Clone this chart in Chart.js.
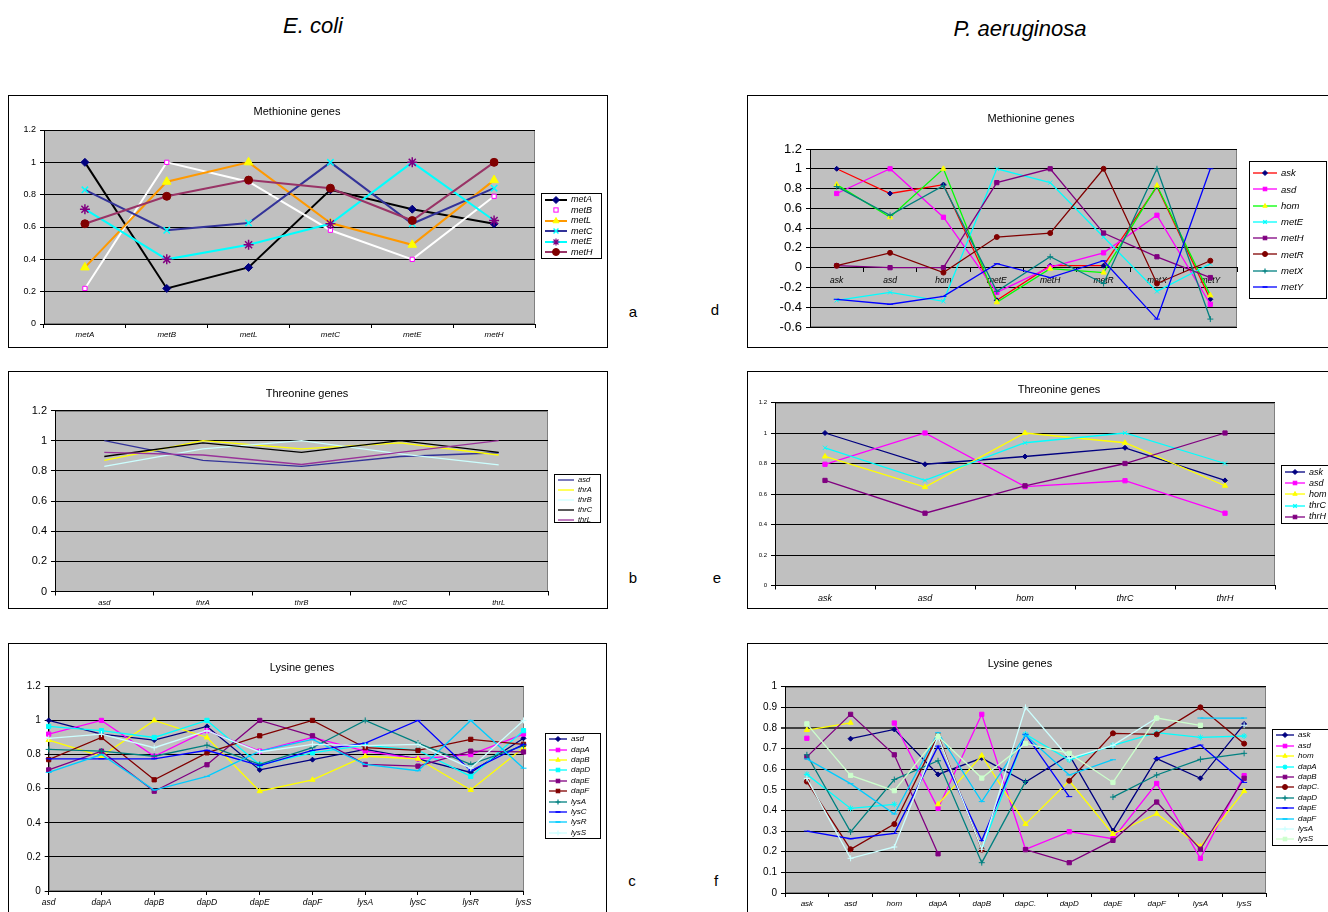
<!DOCTYPE html>
<html>
<head>
<meta charset="utf-8">
<script src="https://cdn.jsdelivr.net/npm/chart.js@4.4.1/dist/chart.umd.min.js"></script>
<style>
  html, body { margin: 0; padding: 0; background: #fff; }
  body { width: 1328px; height: 912px; position: relative; overflow: hidden;
         font-family: "Liberation Sans", Arial, sans-serif; color: #000; }
  canvas { position: absolute; }
  .frame { position: absolute; border: 1px solid #000; box-sizing: border-box; pointer-events: none; }
  .ptitle { position: absolute; transform: translate(-50%, -50%); font-size: 11px; white-space: nowrap; }
  .org { position: absolute; transform: translate(-50%, -50%); font-size: 22px; font-style: italic; white-space: nowrap; }
  .tag { position: absolute; transform: translate(-50%, -50%); font-size: 15px; }
  .legend { position: absolute; border: 1px solid #000; background: #fff; box-sizing: border-box;
            display: flex; flex-direction: column; justify-content: space-evenly; overflow: hidden; }
  .legend .row { display: flex; align-items: center; font-style: italic; white-space: nowrap; line-height: 1; }
  .legend svg { flex: none; }
</style>
</head>
<body>
<div class="org" style="left:313px;top:26px;">E. coli</div>
<div class="org" style="left:1020px;top:29px;">P. aeruginosa</div>
<div class="tag" style="left:633px;top:311px;">a</div>
<div class="tag" style="left:715px;top:309px;">d</div>
<div class="tag" style="left:633px;top:577px;">b</div>
<div class="tag" style="left:717px;top:577px;">e</div>
<div class="tag" style="left:632px;top:880px;">c</div>
<div class="tag" style="left:716px;top:880px;">f</div>

<script>
/* ---------- data: correlation values ---------- */

// a. E. coli, methionine genes
const ecMetCats = ['metA', 'metB', 'metL', 'metC', 'metE', 'metH'];
const ecMet_metA = [1, 0.22, 0.35, 0.83, 0.71, 0.62];
const ecMet_metB = [0.22, 1, 0.88, 0.58, 0.40, 0.79];
const ecMet_metL = [0.35, 0.88, 1, 0.625, 0.49, 0.89];
const ecMet_metC = [0.83, 0.58, 0.625, 1, 0.62, 0.84];
const ecMet_metE = [0.71, 0.40, 0.49, 0.62, 1, 0.64];
const ecMet_metH = [0.62, 0.79, 0.89, 0.84, 0.64, 1];

// b. E. coli, threonine genes
const ecThrCats = ['asd', 'thrA', 'thrB', 'thrC', 'thrL'];
const ecThr_asd  = [1, 0.87, 0.83, 0.895, 0.92];
const ecThr_thrA = [0.87, 1, 0.945, 0.985, 0.905];
const ecThr_thrB = [0.83, 0.945, 1, 0.913, 0.84];
const ecThr_thrC = [0.895, 0.985, 0.922, 1, 0.922];
const ecThr_thrL = [0.922, 0.905, 0.842, 0.922, 1];

// c. E. coli, lysine genes
const ecLysCats = ['asd', 'dapA', 'dapB', 'dapD', 'dapE', 'dapF', 'lysA', 'lysC', 'lysR', 'lysS'];
const ecLys_asd  = [1, 0.92, 0.885, 0.965, 0.71, 0.77, 0.83, 0.775, 0.695, 0.895];
const ecLys_dapA = [0.92, 1, 0.79, 0.94, 0.82, 0.90, 0.82, 0.775, 0.80, 0.92];
const ecLys_dapB = [0.885, 0.79, 1, 0.90, 0.585, 0.652, 0.79, 0.775, 0.592, 0.84];
const ecLys_dapD = [0.965, 0.94, 0.90, 1, 0.74, 0.81, 0.855, 0.825, 0.672, 0.94];
const ecLys_dapE = [0.71, 0.82, 0.585, 0.74, 1, 0.91, 0.742, 0.732, 0.82, 0.815];
const ecLys_dapF = [0.77, 0.90, 0.652, 0.81, 0.91, 1, 0.84, 0.824, 0.889, 0.86];
const ecLys_lysA = [0.83, 0.82, 0.79, 0.855, 0.742, 0.84, 1, 0.867, 0.742, 0.852];
const ecLys_lysC = [0.775, 0.775, 0.775, 0.825, 0.735, 0.824, 0.867, 1, 0.705, 0.86];
const ecLys_lysR = [0.695, 0.80, 0.592, 0.672, 0.82, 0.889, 0.742, 0.705, 1, 0.72];
const ecLys_lysS = [0.895, 0.92, 0.84, 0.94, 0.815, 0.86, 0.852, 0.86, 0.72, 1];

// d. P. aeruginosa, methionine genes
const paMetCats = ['ask', 'asd', 'hom', 'metE', 'metH', 'metR', 'metX', 'metY'];
const paMet_ask  = [1, 0.75, 0.84, -0.33, 0.02, 0.02, 0.82, -0.32];
const paMet_asd  = [0.75, 1, 0.51, -0.25, 0.005, 0.15, 0.53, -0.37];
const paMet_hom  = [0.84, 0.51, 1, -0.35, -0.01, -0.05, 0.83, -0.28];
const paMet_metE = [-0.33, -0.25, -0.34, 1, 0.86, 0.31, -0.24, 0.04];
const paMet_metH = [0.02, 0.0, 0.0, 0.86, 1, 0.35, 0.11, -0.10];
const paMet_metR = [0.02, 0.15, -0.05, 0.31, 0.35, 1, -0.16, 0.07];
const paMet_metX = [0.82, 0.53, 0.83, -0.24, 0.11, -0.16, 1, -0.52];
const paMet_metY = [-0.32, -0.37, -0.29, 0.04, -0.10, 0.07, -0.52, 1];

// e. P. aeruginosa, threonine genes
const paThrCats = ['ask', 'asd', 'hom', 'thrC', 'thrH'];
const paThr_ask  = [1, 0.795, 0.846, 0.903, 0.689];
const paThr_asd  = [0.795, 1, 0.648, 0.687, 0.474];
const paThr_hom  = [0.846, 0.645, 1, 0.936, 0.654];
const paThr_thrC = [0.903, 0.689, 0.936, 1, 0.80];
const paThr_thrH = [0.689, 0.474, 0.654, 0.80, 1];

// f. P. aeruginosa, lysine genes (diagonal and a few pairs missing)
const paLysCats = ['ask', 'asd', 'hom', 'dapA', 'dapB', 'dapC.', 'dapD', 'dapE', 'dapF', 'lysA', 'lysS'];
const paLys_ask  = [null, 0.748, 0.793, 0.575, 0.654, 0.538, 0.669, 0.302, 0.651, 0.556, 0.819];
const paLys_asd  = [0.75, null, 0.824, 0.41, 0.866, 0.212, 0.297, 0.263, 0.531, 0.168, 0.569];
const paLys_hom  = [0.79, 0.825, null, 0.43, 0.666, 0.334, 0.544, 0.286, 0.384, 0.225, 0.494];
const paLys_dapA = [0.575, 0.41, 0.43, null, 0.215, 0.77, 0.645, 0.716, 0.777, 0.754, 0.761];
const paLys_dapB = [0.66, 0.866, 0.67, 0.19, null, 0.21, 0.147, 0.255, 0.441, 0.212, 0.556];
const paLys_dapC = [0.54, 0.212, 0.334, 0.765, 0.21, null, 0.544, 0.774, 0.769, 0.9, 0.724];
const paLys_dapD = [0.67, 0.296, 0.55, 0.641, 0.147, 0.54, null, 0.465, 0.572, 0.648, 0.677];
const paLys_dapE = [0.30, 0.263, 0.289, 0.712, 0.254, 0.769, 0.467, null, 0.651, 0.717, 0.536];
const paLys_dapF = [0.65, 0.53, 0.383, 0.777, 0.443, 0.766, 0.572, 0.646, null, 0.848, 0.848];
const paLys_lysA = [0.555, 0.168, 0.223, 0.758, 0.212, 0.9, 0.653, 0.716, 0.848, null, 0.813];
const paLys_lysS = [0.82, 0.57, 0.496, 0.76, 0.557, 0.725, 0.677, 0.536, 0.848, 0.813, null];

/* ---------- series styles (Excel palette) ---------- */
const NAVY = '#000080', MAG = '#FF00FF', YEL = '#FFFF00', CYAN = '#00FFFF', PURP = '#800080',
      DRED = '#800000', TEAL = '#008080', BLUE = '#0000FF', SKY = '#00CCFF', LCYAN = '#CCFFFF',
      LGRN = '#CCFFCC';

const ecMetStyles = [
  { c: '#000000', pt: 'rectRot', pc: NAVY, r: 4 },
  { c: '#FFFFFF', pt: 'rect', pc: MAG, pf: '#FFFFFF', r: 3 },
  { c: '#FF9900', pt: 'triangle', pc: YEL, r: 5 },
  { c: '#333399', pt: 'crossRot', pc: CYAN, r: 4.5, pb: 1.5 },
  { c: CYAN, pt: 'star', pc: PURP, r: 5, pb: 1.5 },
  { c: '#993366', pt: 'circle', pc: DRED, r: 4 }
];
const ecThrStyles = [
  { c: '#333399' }, { c: YEL }, { c: LCYAN }, { c: '#000000' }, { c: '#993399' }
];
const lysStyles = [
  { c: NAVY, pt: 'rectRot', pc: NAVY, r: 2.5 },
  { c: MAG, pt: 'rect', pc: MAG, r: 3 },
  { c: YEL, pt: 'triangle', pc: YEL, r: 3 },
  { c: CYAN, pt: 'rect', pc: CYAN, r: 3 },
  { c: PURP, pt: 'rect', pc: PURP, r: 3 },
  { c: DRED, pt: 'rect', pc: DRED, r: 3 },
  { c: TEAL, pt: 'cross', pc: TEAL, r: 3 },
  { c: BLUE, pt: 'line', pc: BLUE, r: 3 },
  { c: SKY, pt: 'line', pc: SKY, r: 3 },
  { c: LCYAN, pt: 'cross', pc: LCYAN, r: 3 }
];
const paMetStyles = [
  { c: '#FF0000', pt: 'rectRot', pc: NAVY, r: 2.5 },
  { c: MAG, pt: 'rect', pc: MAG, r: 3 },
  { c: '#00FF00', pt: 'triangle', pc: YEL, r: 3 },
  { c: CYAN, pt: 'crossRot', pc: CYAN, r: 3 },
  { c: PURP, pt: 'rect', pc: PURP, r: 3 },
  { c: DRED, pt: 'circle', pc: DRED, r: 2.5 },
  { c: TEAL, pt: 'cross', pc: TEAL, r: 3 },
  { c: BLUE, pt: 'line', pc: BLUE, r: 3 }
];
const paThrStyles = [
  { c: NAVY, pt: 'rectRot', pc: NAVY, r: 2.5 },
  { c: MAG, pt: 'rect', pc: MAG, r: 3 },
  { c: YEL, pt: 'triangle', pc: YEL, r: 3 },
  { c: CYAN, pt: 'crossRot', pc: CYAN, r: 3 },
  { c: PURP, pt: 'rect', pc: PURP, r: 3 }
];
const paLysStyles = [
  { c: NAVY, pt: 'rectRot', pc: NAVY, r: 2.5 },
  { c: MAG, pt: 'rect', pc: MAG, r: 3 },
  { c: YEL, pt: 'triangle', pc: YEL, r: 3 },
  { c: CYAN, pt: 'star', pc: CYAN, r: 3 },
  { c: PURP, pt: 'rect', pc: PURP, r: 3 },
  { c: DRED, pt: 'circle', pc: DRED, r: 2.5 },
  { c: TEAL, pt: 'cross', pc: TEAL, r: 3 },
  { c: BLUE, pt: 'line', pc: BLUE, r: 3 },
  { c: SKY, pt: 'line', pc: SKY, r: 3 },
  { c: LCYAN, pt: 'cross', pc: LCYAN, r: 3 },
  { c: LGRN, pt: 'rect', pc: LGRN, r: 3 }
];

/* ---------- helpers ---------- */
Chart.defaults.font.family = '"Liberation Sans", Arial, sans-serif';
Chart.defaults.color = '#000';

// grey Excel plot area
const plotBg = {
  id: 'plotBg',
  beforeDraw(chart) {
    const { ctx, chartArea: a } = chart;
    ctx.save();
    ctx.fillStyle = '#C0C0C0';
    ctx.fillRect(a.left, a.top, a.width, a.height);
    ctx.strokeStyle = '#808080';
    ctx.lineWidth = 1;
    ctx.strokeRect(Math.round(a.left) + 0.5, Math.round(a.top) + 0.5, Math.round(a.width) - 1, Math.round(a.height) - 1);
    ctx.restore();
  }
};

function makeSets(names, values, styles, lw) {
  const n = values.length;
  return values.map((v, i) => {
    const s = styles[i];
    return {
      label: names[i],
      data: v,
      order: n - 1 - i,
      borderColor: s.c,
      borderWidth: lw,
      pointStyle: s.pt || false,
      pointRadius: s.pt ? s.r : 0,
      pointHoverRadius: s.pt ? s.r : 0,
      pointBackgroundColor: s.pf || s.pc || s.c,
      pointBorderColor: s.pc || s.c,
      pointBorderWidth: s.pb || 1,
      tension: 0,
      spanGaps: false
    };
  });
}

function markerSvg(pt, cx, cy, r, fill, stroke) {
  const k = r * Math.SQRT1_2;
  switch (pt) {
    case 'rectRot':
      return `<polygon points="${cx},${cy - r} ${cx + r},${cy} ${cx},${cy + r} ${cx - r},${cy}" fill="${fill}" stroke="${stroke}"/>`;
    case 'rect':
      return `<rect x="${cx - k}" y="${cy - k}" width="${2 * k}" height="${2 * k}" fill="${fill}" stroke="${stroke}"/>`;
    case 'triangle':
      return `<polygon points="${cx},${cy - r} ${cx + r * 0.87},${cy + r * 0.5} ${cx - r * 0.87},${cy + r * 0.5}" fill="${fill}" stroke="${stroke}"/>`;
    case 'circle':
      return `<circle cx="${cx}" cy="${cy}" r="${r}" fill="${fill}" stroke="${stroke}"/>`;
    case 'cross':
      return `<path d="M${cx - r},${cy}H${cx + r}M${cx},${cy - r}V${cy + r}" stroke="${stroke}" stroke-width="1.2"/>`;
    case 'crossRot':
      return `<path d="M${cx - k},${cy - k}L${cx + k},${cy + k}M${cx + k},${cy - k}L${cx - k},${cy + k}" stroke="${stroke}" stroke-width="1.4"/>`;
    case 'star':
      return `<path d="M${cx - r},${cy}H${cx + r}M${cx},${cy - r}V${cy + r}M${cx - k},${cy - k}L${cx + k},${cy + k}M${cx + k},${cy - k}L${cx - k},${cy + k}" stroke="${stroke}" stroke-width="1.2"/>`;
    case 'line':
      return `<path d="M${cx - r},${cy}H${cx + r}" stroke="${stroke}" stroke-width="1.5"/>`;
    default:
      return '';
  }
}

function legendBox(p, sets) {
  const [x, y, w, h] = p.legend;
  const box = document.createElement('div');
  box.className = 'legend';
  Object.assign(box.style, { left: x + 'px', top: y + 'px', width: w + 'px', height: h + 'px', fontSize: p.legFont + 'px' });
  const sw = p.sw, sh = 10;
  sets.forEach(s => {
    const row = document.createElement('div');
    row.className = 'row';
    const r = Math.min(s.pointRadius, p.legR || 3.5);
    row.innerHTML =
      `<svg width="${sw}" height="${sh}" style="margin-left:2px">` +
      `<line x1="1" y1="${sh / 2}" x2="${sw - 1}" y2="${sh / 2}" stroke="${s.borderColor}" stroke-width="${Math.min(s.borderWidth, 2)}"/>` +
      (s.pointStyle ? markerSvg(s.pointStyle, sw / 2, sh / 2, r, s.pointBackgroundColor, s.pointBorderColor) : '') +
      `</svg><span style="margin-left:3px">${s.label}</span>`;
    box.appendChild(row);
  });
  document.body.appendChild(box);
}

function panel(p) {
  const [bx, by, bw, bh] = p.box;
  const [l, t, r, b] = p.plot;
  const YW = 30, XH = p.xH || 20;

  const cv = document.createElement('canvas');
  cv.width = bw; cv.height = bh;
  cv.style.left = bx + 'px'; cv.style.top = by + 'px';
  document.body.appendChild(cv);

  const fr = document.createElement('div');
  fr.className = 'frame';
  Object.assign(fr.style, { left: bx + 'px', top: by + 'px', width: bw + 'px', height: bh + 'px' });
  document.body.appendChild(fr);

  const ti = document.createElement('div');
  ti.className = 'ptitle';
  ti.textContent = p.title[0];
  Object.assign(ti.style, { left: p.title[1] + 'px', top: p.title[2] + 'px' });
  document.body.appendChild(ti);

  const sets = makeSets(p.cats, p.values, p.styles, p.lw);

  new Chart(cv, {
    type: 'line',
    data: { labels: p.cats, datasets: sets },
    plugins: [plotBg],
    options: {
      responsive: false,
      animation: false,
      events: [],
      layout: {
        padding: {
          left: l - bx - YW,
          top: t - by,
          right: bx + bw - r,
          bottom: Math.max(0, by + bh - b - (p.xAtZero ? 0 : XH))
        }
      },
      plugins: { legend: { display: false }, tooltip: { enabled: false }, title: { display: false } },
      scales: {
        x: {
          type: 'category',
          offset: p.offset,
          position: p.xAtZero ? { y: 0 } : 'bottom',
          grid: { drawOnChartArea: false, drawTicks: true, tickLength: 4, color: '#000', offset: p.offset },
          border: { color: '#000', width: 1 },
          ticks: { font: { size: p.xFont, style: 'italic' }, padding: p.xPad, maxRotation: 0, autoSkip: false, color: '#000' },
          afterFit: s => { s.height = XH; }
        },
        y: {
          min: p.y[0], max: p.y[1],
          grid: {
            color: ctx => (p.heavy !== undefined && Math.abs(ctx.tick.value - p.heavy) < 1e-6) ? '#404040' : '#000',
            lineWidth: ctx => (p.heavy !== undefined && Math.abs(ctx.tick.value - p.heavy) < 1e-6) ? 2 : 1,
            drawTicks: true, tickLength: 4
          },
          border: { color: '#000', width: 1 },
          ticks: {
            stepSize: p.y[2],
            font: { size: p.yFont },
            padding: 4,
            color: '#000',
            callback: v => String(Math.round(v * 1000) / 1000)
          },
          afterFit: s => { s.width = YW; }
        }
      }
    }
  });

  legendBox(p, sets);
}

/* ---------- the six panels ---------- */
panel({
  box: [8, 95, 600, 253], plot: [44, 130, 535, 324],
  title: ['Methionine genes', 297, 111],
  cats: ecMetCats, values: [ecMet_metA, ecMet_metB, ecMet_metL, ecMet_metC, ecMet_metE, ecMet_metH],
  styles: ecMetStyles, lw: 2,
  y: [0, 1.2, 0.2], yFont: 9, xFont: 8, xPad: 2, offset: true, xH: 20,
  legend: [541, 193, 61, 66], legFont: 9, sw: 24, legR: 3.5
});

panel({
  box: [8, 371, 600, 238], plot: [55, 410.5, 548, 591.5],
  title: ['Threonine genes', 307, 393],
  cats: ecThrCats, values: [ecThr_asd, ecThr_thrA, ecThr_thrB, ecThr_thrC, ecThr_thrL],
  styles: ecThrStyles, lw: 1.3,
  y: [0, 1.2, 0.2], yFont: 11, xFont: 7.5, xPad: 3, offset: true, xH: 17,
  legend: [554, 474, 47, 49], legFont: 7.5, sw: 18
});

panel({
  box: [8, 643, 599, 280], plot: [48.7, 686.3, 523.5, 891],
  title: ['Lysine genes', 302, 667],
  cats: ecLysCats,
  values: [ecLys_asd, ecLys_dapA, ecLys_dapB, ecLys_dapD, ecLys_dapE, ecLys_dapF, ecLys_lysA, ecLys_lysC, ecLys_lysR, ecLys_lysS],
  styles: lysStyles, lw: 1.3,
  y: [0, 1.2, 0.2], yFont: 10, xFont: 8.5, xPad: 3, offset: false, xH: 22,
  legend: [545, 733, 56, 106], legFont: 8, sw: 20, legR: 2.5
});

panel({
  box: [747, 95, 600, 253], plot: [810, 149, 1237, 327],
  title: ['Methionine genes', 1031, 118],
  cats: paMetCats, values: [paMet_ask, paMet_asd, paMet_hom, paMet_metE, paMet_metH, paMet_metR, paMet_metX, paMet_metY],
  styles: paMetStyles, lw: 1.3,
  y: [-0.6, 1.2, 0.2], yFont: 13, xFont: 8.5, xPad: 4, offset: true, xAtZero: true, xH: 22,
  legend: [1249, 161, 78, 138], legFont: 9.5, sw: 26, legR: 2.5
});

panel({
  box: [747, 371, 600, 238], plot: [775, 402.5, 1275, 585.5],
  title: ['Threonine genes', 1059, 389],
  cats: paThrCats, values: [paThr_ask, paThr_asd, paThr_hom, paThr_thrC, paThr_thrH],
  styles: paThrStyles, lw: 1.3,
  y: [0, 1.2, 0.2], yFont: 6, xFont: 9, xPad: 4, offset: true, xH: 20,
  legend: [1281, 465, 60, 59], legFont: 9, sw: 22, legR: 2.5
});

panel({
  box: [747, 643, 600, 280], plot: [785, 686.7, 1266, 893],
  title: ['Lysine genes', 1020, 663],
  cats: paLysCats,
  values: [paLys_ask, paLys_asd, paLys_hom, paLys_dapA, paLys_dapB, paLys_dapC, paLys_dapD, paLys_dapE, paLys_dapF, paLys_lysA, paLys_lysS],
  styles: paLysStyles, lw: 1.3,
  y: [0, 1, 0.1], yFont: 10, xFont: 8, xPad: 2, offset: true, heavy: 0.8, xH: 20,
  legend: [1272, 729, 60, 117], legFont: 8, sw: 20, legR: 2.5
});
</script>
</body>
</html>
